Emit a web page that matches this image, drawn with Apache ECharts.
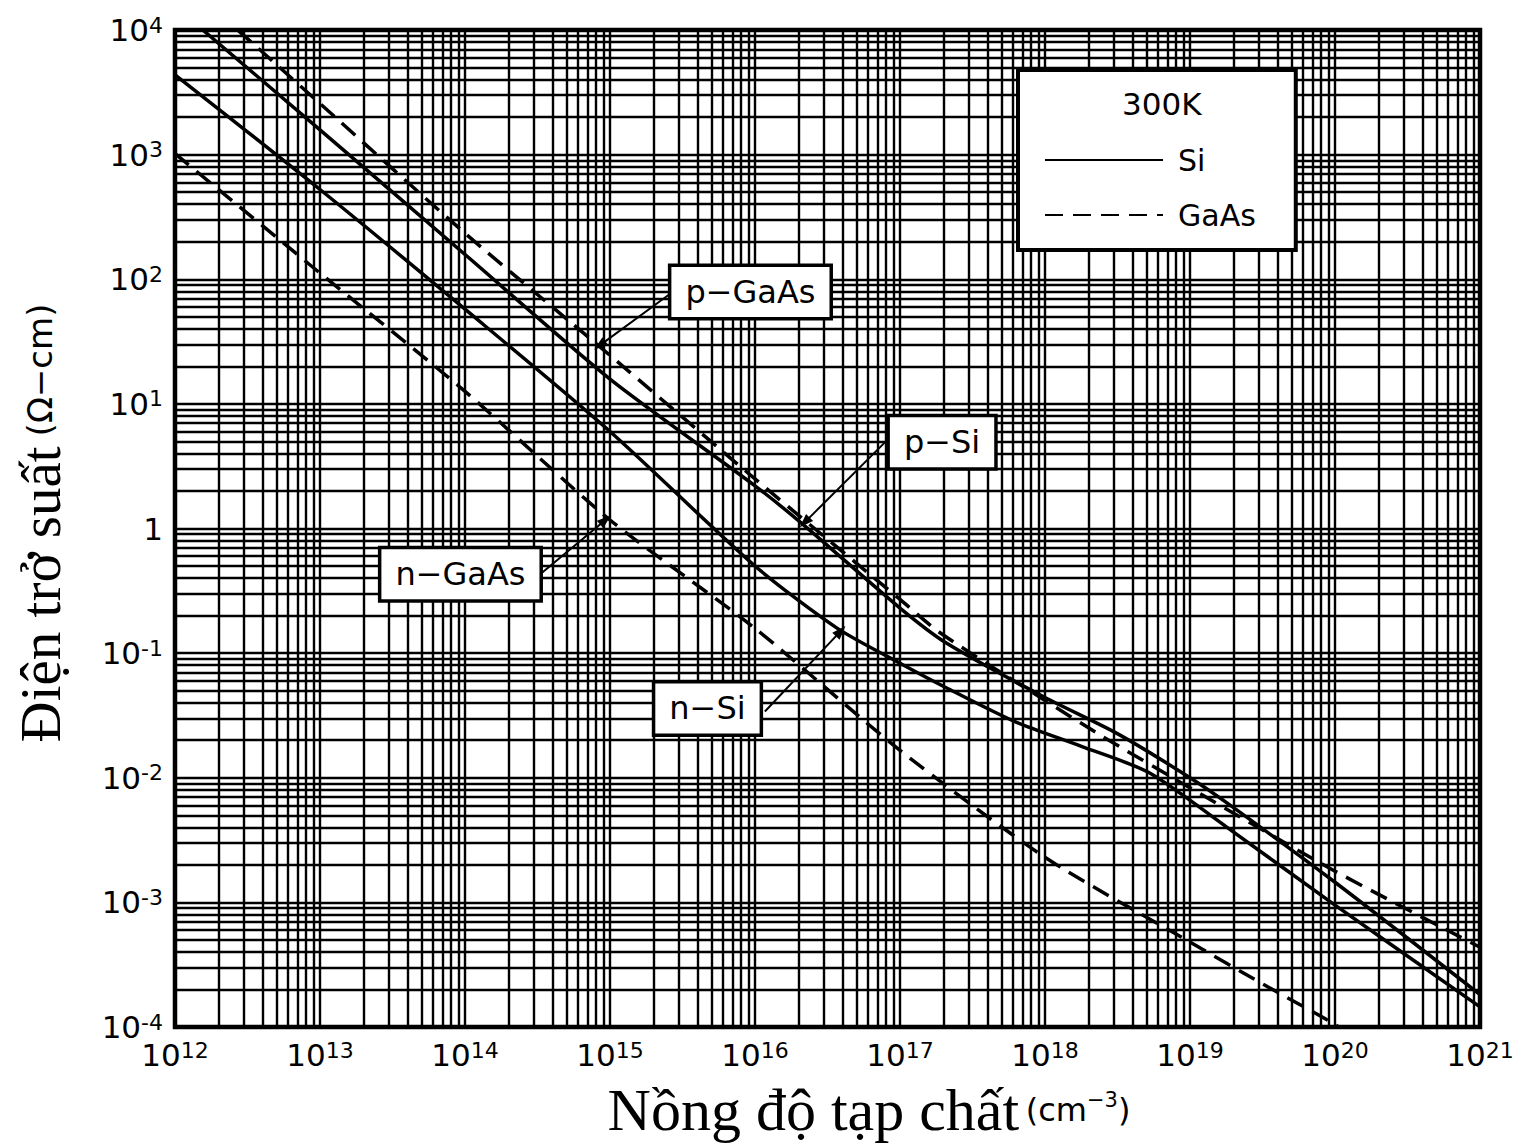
<!DOCTYPE html>
<html>
<head>
<meta charset="utf-8">
<title>Điện trở suất theo nồng độ tạp chất</title>
<script src="https://cdn.jsdelivr.net/npm/echarts@6/dist/echarts.min.js"></script>
<style>
  html, body { margin: 0; padding: 0; background: #fff; }
  #resistivity { width: 1521px; height: 1148px; }
</style>
</head>
<body>
<div id="resistivity"></div>
<script>
  // nồng độ tạp chất (cm^-3) / điện trở suất (Ω-cm)
  const pSiN     = [1e12, 1e13, 1e14, 1e15, 1e16, 2.1e16, 1e17, 2.1e17, 1e18, 3.2e18, 1e19, 1.9e19, 1e20, 1e21]
  const pSiRho   = [15500, 1580, 158, 15.8, 2.2, 1.1, 0.23, 0.12, 0.044, 0.0224, 0.010, 0.006, 0.00145, 0.000182]

  const nSiN     = [1e12, 1e13, 1e14, 1e15, 1e16, 3.7e16, 1e17, 2.1e17, 6.2e17, 1.8e18, 5.2e18, 1.8e19, 1e20, 1e21]
  const nSiRho   = [4370, 525, 57.5, 6.0, 0.5, 0.158, 0.083, 0.0525, 0.0282, 0.0178, 0.011, 0.0040, 0.00095, 0.000145]

  const pGaAsN   = [1e12, 1e13, 1e14, 1e15, 1e16, 1e17, 1.9e17, 1e18, 2.5e18, 1e19, 1e20, 1e21]
  const pGaAsRho = [28200, 2570, 234, 24.5, 2.5, 0.27, 0.145, 0.0417, 0.0214, 0.0083, 0.00178, 0.000437]

  const nGaAsN   = [1e12, 1e13, 1e14, 1e15, 1e16, 1e17, 1e18, 1e19, 3.2e19, 1e20, 1.3e20]
  const nGaAsRho = [1020, 112, 12.6, 1.17, 0.158, 0.0166, 0.0023, 0.00048, 0.00022, 0.000105, 0.000083]

  // nhãn trục (số mũ)
  const xTickExp = [12, 13, 14, 15, 16, 17, 18, 19, 20, 21]
  const yTickExp = [4, 3, 2, 1, 0, -1, -2, -3, -4]

  // chú thích: tên đường, chỗ đặt hộp chữ, mũi tên (đuôi -> đầu)
  const noteNames = ['p−GaAs', 'p−Si', 'n−GaAs', 'n−Si']
  const noteBox   = [[9.3e15, 79], [1.95e17, 4.93], [9.3e13, 0.43], [4.7e15, 0.036]]
  const noteTail  = [[2.7e15, 79], [7.9e16, 4.93], [3.3e14, 0.43], [1.17e16, 0.034]]
  const noteHead  = [[8.5e14, 29.5], [2.2e16, 1.12], [9.3e14, 1.17], [3.9e16, 0.15]]

  const pairs = (xs, ys) => xs.map((x, i) => [x, ys[i]])

  // lưới log: 1..9 x 10^n, mỗi đường là 2 điểm nối từ mép này sang mép kia
  const xMin = 1e12, xMax = 1e21, yMin = 1e-4, yMax = 1e4
  let gridLines = []
  for (let i = 0; i < xTickExp.length; i++) {
    for (let m = 1; m <= 9; m++) {
      if (i === xTickExp.length - 1 && m > 1) break
      let v = m * Math.pow(10, xTickExp[i])
      gridLines.push([{ coord: [v, yMin] }, { coord: [v, yMax] }])
    }
  }
  let yLow = Math.min.apply(null, yTickExp), yHigh = Math.max.apply(null, yTickExp)
  for (let e = yLow; e <= yHigh; e++) {
    for (let m = 1; m <= 9; m++) {
      if (e === yHigh && m > 1) break
      let v = m * Math.pow(10, e)
      gridLines.push([{ coord: [xMin, v] }, { coord: [xMax, v] }])
    }
  }

  const tickText = function (v) {
    let e = Math.round(Math.log10(v))
    return e === 0 ? '{a|1}' : '{a|10}{s|' + e + '}'
  }
  const tickRich = {
    a: { fontSize: 31, fontFamily: 'DejaVu Sans', color: '#000', lineHeight: 32 },
    s: { fontSize: 22, fontFamily: 'DejaVu Sans', color: '#000', lineHeight: 18, verticalAlign: 'top' }
  }

  const siLine = { color: '#000', width: 3.5, type: 'solid' }
  const gaasLine = { color: '#000', width: 3.5, type: [18, 10] }

  let options = {
    animation: false,
    backgroundColor: '#fff',
    grid: {
      left: 175, right: 41, top: 30, bottom: 121,
      show: true, borderColor: '#000', borderWidth: 4.5, backgroundColor: '#fff'
    },
    legend: {
      data: ['Si', 'GaAs'],
      orient: 'vertical',
      left: 1018, top: 70,
      padding: [75, 40, 20, 26],
      itemWidth: 118, itemHeight: 20, itemGap: 25,
      backgroundColor: '#fff', borderColor: '#000', borderWidth: 4,
      itemStyle: { opacity: 0 },   // bỏ chấm tròn trên biểu tượng
      textStyle: { fontSize: 30, fontFamily: 'DejaVu Sans', color: '#000', padding: [0, 0, 0, 10] },
      z: 20
    },
    xAxis: {
      type: 'log', logBase: 10,
      min: xMin, max: xMax, splitNumber: 9,
      axisLine: { show: false }, axisTick: { show: false }, splitLine: { show: false },
      axisLabel: { margin: 12, formatter: tickText, rich: tickRich }
    },
    yAxis: {
      type: 'log', logBase: 10,
      min: yMin, max: yMax, splitNumber: 8,
      axisLine: { show: false }, axisTick: { show: false }, splitLine: { show: false },
      axisLabel: { margin: 12, formatter: tickText, rich: tickRich }
    },
    graphic: [
      {
        type: 'text', left: 1122, top: 88, z: 30,
        style: { text: '300K', fontSize: 31, fontFamily: 'DejaVu Sans', fill: '#000' }
      },
      {
        type: 'text', x: 40, y: 523, rotation: Math.PI / 2, z: 30,
        style: {
          text: '{a|Điện trở suất}   {b|(Ω−cm)}',
          align: 'center', verticalAlign: 'middle',
          rich: {
            a: { fontSize: 57, fontFamily: 'Liberation Serif', fill: '#000' },
            b: { fontSize: 34, fontFamily: 'DejaVu Sans', fill: '#000' }
          }
        }
      },
      {
        type: 'text', x: 869, y: 1110, z: 30,
        style: {
          text: '{a|Nồng độ tạp chất}  {b|(cm}{s|−3}{b|)}',
          align: 'center', verticalAlign: 'middle',
          rich: {
            a: { fontSize: 60, fontFamily: 'Liberation Serif', fill: '#000', lineHeight: 50 },
            b: { fontSize: 32, fontFamily: 'DejaVu Sans', fill: '#000', lineHeight: 34 },
            s: { fontSize: 21, fontFamily: 'DejaVu Sans', fill: '#000', lineHeight: 20, padding: [0, 0, 20, 0] }
          }
        }
      }
    ],
    series: [
      {
        // chỉ để vẽ lưới
        name: 'luoi', type: 'line', data: [], z: 1, silent: true,
        markLine: {
          silent: true, symbol: ['none', 'none'], animation: false, precision: 12,
          label: { show: false },
          lineStyle: { color: '#000', width: 2.4, type: 'solid' },
          emphasis: { disabled: true },
          data: gridLines
        }
      },
      { name: 'Si', type: 'line', data: pairs(pSiN, pSiRho), symbol: 'none', smooth: 0.25, lineStyle: siLine, itemStyle: { color: '#000' }, z: 3 },
      { name: 'Si', type: 'line', data: pairs(nSiN, nSiRho), symbol: 'none', smooth: 0.25, lineStyle: siLine, itemStyle: { color: '#000' }, z: 3 },
      { name: 'GaAs', type: 'line', data: pairs(pGaAsN, pGaAsRho), symbol: 'none', smooth: 0.25, lineStyle: gaasLine, itemStyle: { color: '#000' }, z: 3 },
      { name: 'GaAs', type: 'line', data: pairs(nGaAsN, nGaAsRho), symbol: 'none', smooth: 0.25, lineStyle: gaasLine, itemStyle: { color: '#000' }, z: 3 },
      {
        // các hộp chú thích + mũi tên
        name: 'ghichu', type: 'line', data: [], z: 6, silent: true,
        markLine: {
          silent: true, symbol: ['none', 'triangle'], symbolSize: [10, 14], animation: false,
          label: { show: false },
          lineStyle: { color: '#000', width: 2, type: 'solid' },
          emphasis: { disabled: true },
          data: noteTail.map((t, i) => [{ coord: t }, { coord: noteHead[i] }])
        },
        markPoint: {
          silent: true, symbol: 'circle', symbolSize: 1, animation: false,
          itemStyle: { color: 'rgba(0,0,0,0)' },
          label: {
            show: true, position: 'inside',
            fontSize: 32, fontFamily: 'DejaVu Sans', color: '#000',
            backgroundColor: '#fff', borderColor: '#000', borderWidth: 3.5,
            padding: [10, 14, 8, 14],
            formatter: p => p.name
          },
          data: noteBox.map((c, i) => ({ name: noteNames[i], coord: c }))
        }
      }
    ]
  }

  // svg: vẽ hết một lần
  let mycharts = echarts.init(document.getElementById('resistivity'), null, { renderer: 'svg' })
  mycharts.setOption(options)
</script>
</body>
</html>
